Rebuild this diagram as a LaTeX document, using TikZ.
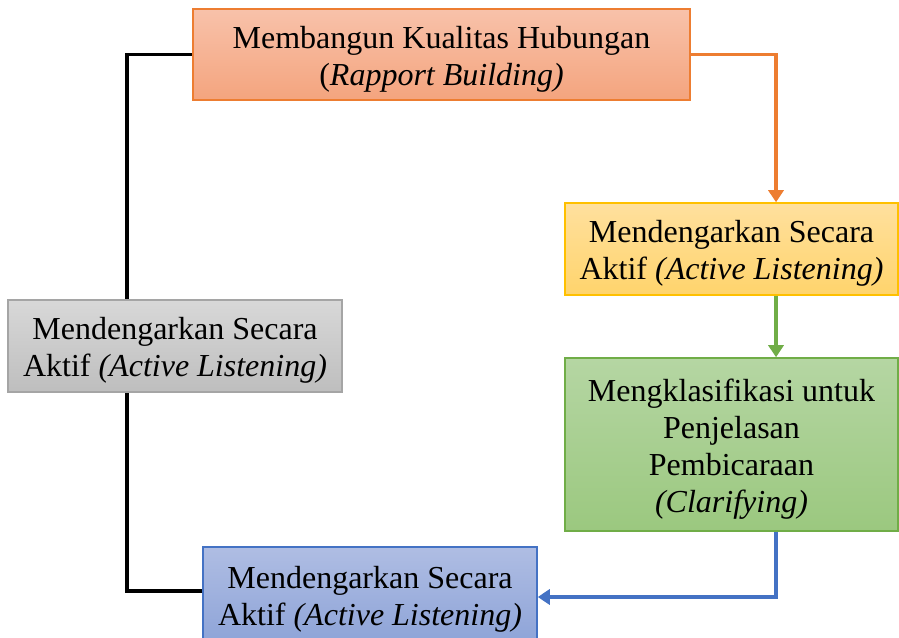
\documentclass[tikz,border=0pt]{standalone}
\usepackage{fontspec}
\setmainfont{Liberation Serif}
\usetikzlibrary{arrows.meta}
\definecolor{orgline}{HTML}{ED7D31}
\definecolor{orgtop}{HTML}{F8C2AA}
\definecolor{orgbot}{HTML}{F4A47E}
\definecolor{yelline}{HTML}{FFC000}
\definecolor{yeltop}{HTML}{FFE09E}
\definecolor{yelbot}{HTML}{FFD46C}
\definecolor{grnline}{HTML}{70AD47}
\definecolor{grntop}{HTML}{B5D6A3}
\definecolor{grnbot}{HTML}{9BC87F}
\definecolor{gryline}{HTML}{A5A5A5}
\definecolor{grytop}{HTML}{D8D8D8}
\definecolor{grybot}{HTML}{BEBEBE}
\definecolor{bluline}{HTML}{4472C4}
\definecolor{blutop}{HTML}{AFBDE3}
\definecolor{blubot}{HTML}{8EA4D8}
% centred lines of a box, drawn a little below the box's middle
\newcommand\cardtext[1]{\raisebox{-5pt}[\height][\depth]{\begin{tabular}{@{}c@{}}#1\end{tabular}}}
\tikzset{
  card/.style={rectangle, line width=1.5pt, inner sep=0pt,
    font=\fontsize{32}{37}\selectfont},
  link/.style={line width=3.5pt},
  tip/.style={-{Triangle[width=15pt,length=12pt]}}
}
\begin{document}
\begin{tikzpicture}[x=1pt,y=1pt]
\useasboundingbox (0,0) rectangle (899,637);
\fill[white] (0,0) rectangle (899,637);
% boxes
\node[card, draw=orgline, top color=orgtop, bottom color=orgbot,
  minimum width=497pt, minimum height=91pt] (rapport) at (441.5,582.5)
  {\cardtext{Membangun Kualitas Hubungan\\(\textit{Rapport Building)}}};
\node[card, draw=yelline, top color=yeltop, bottom color=yelbot,
  minimum width=333pt, minimum height=92pt] (listen1) at (731.5,388)
  {\cardtext{Mendengarkan Secara\\Aktif \textit{(Active Listening)}}};
\node[card, draw=grnline, top color=grntop, bottom color=grnbot,
  minimum width=333pt, minimum height=173pt] (clarify) at (731.5,192.5)
  {\cardtext{Mengklasifikasi untuk\\Penjelasan\\Pembicaraan\\\textit{(Clarifying)}}};
\node[card, draw=bluline, top color=blutop, bottom color=blubot,
  minimum width=334pt, minimum height=96pt] (listen3) at (370,42)
  {\cardtext{Mendengarkan Secara\\Aktif \textit{(Active Listening)}}};
% connectors
\coordinate (rightrail) at (776,0);
\coordinate (leftrail) at (127,0);
\draw[link, orgline, tip] (rapport.east) -| (rightrail |- listen1.north);
\draw[link, grnline, tip] (rightrail |- listen1.south) -- (rightrail |- clarify.north);
\draw[link, bluline, tip] (rightrail |- clarify.south) |- ([yshift=-2pt]listen3.east);
\draw[link, black, line join=miter] ([yshift=4pt]listen3.west) -| (leftrail |- rapport.west) -- (rapport.west);
% grey box sits on the left rail
\node[card, draw=gryline, top color=grytop, bottom color=grybot,
  minimum width=334pt, minimum height=92pt] (listen2) at (175,291)
  {\cardtext{Mendengarkan Secara\\Aktif \textit{(Active Listening)}}};
\end{tikzpicture}
\end{document}
